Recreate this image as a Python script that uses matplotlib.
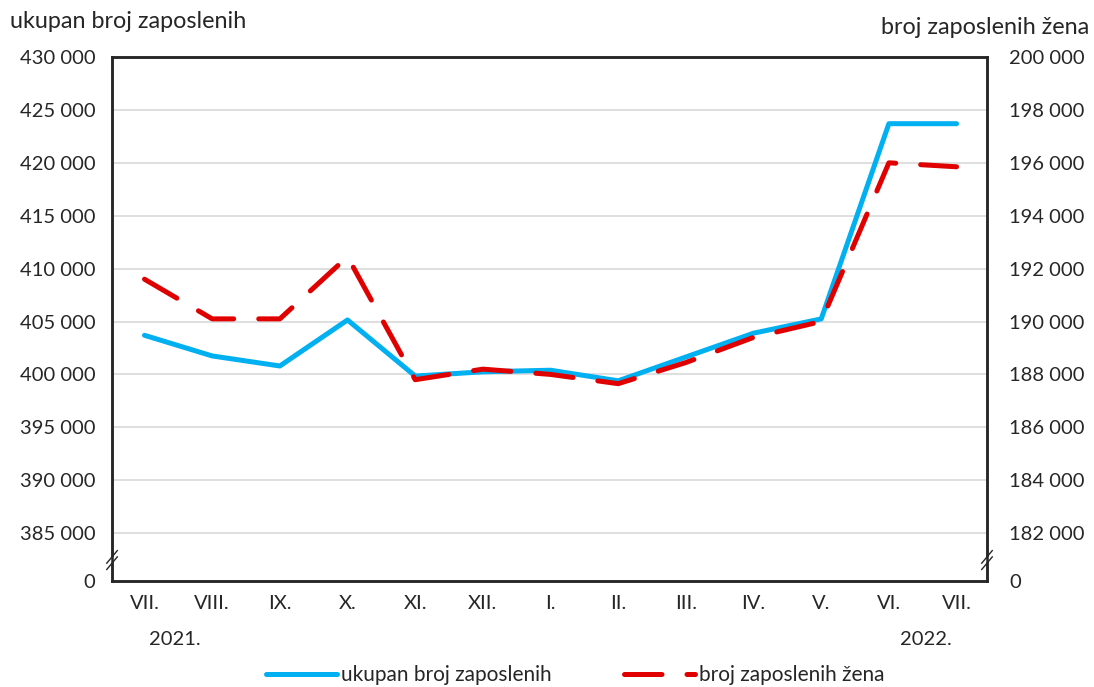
import matplotlib
matplotlib.use('Agg')
from matplotlib import pyplot as plt

plt.rcParams['font.family'] = ['Lato', 'DejaVu Sans']

months = ['VII.', 'VIII.', 'IX.', 'X.', 'XI.', 'XII.', 'I.', 'II.', 'III.',
          'IV.', 'V.', 'VI.', 'VII.']
ukupno = [403700, 401750, 400800, 405150, 399850, 400250, 400400, 399400,
          401650, 403900, 405250, 423700, 423700]
zene = [191600, 190100, 190100, 192450, 187800, 188200, 188000, 187650,
        188450, 189400, 190000, 196000, 195850]

left_ticks = [385000, 390000, 395000, 400000, 405000, 410000, 415000,
              420000, 425000, 430000]
right_ticks = [182000, 184000, 186000, 188000, 190000, 192000, 194000,
               196000, 198000, 200000]
left_bottom = 380480
right_bottom = 180190

blue = '#00B0F0'
red = '#E00000'
txt = '#262626'


def fmt(v):
    return '{:,}'.format(v).replace(',', ' ')


fig = plt.figure(figsize=(10.94, 6.87), dpi=100)
ax1 = fig.add_axes([0.1024, 0.1543, 0.7998, 0.7627])
ax2 = ax1.twinx()

x = list(range(len(months)))
l1, = ax1.plot(x, ukupno, color=blue, lw=3.6, solid_capstyle='round',
               solid_joinstyle='round', label='ukupan broj zaposlenih')
l2, = ax2.plot(x, zene, color=red, lw=3.6, dashes=(7.5, 5.0),
               dash_capstyle='round', dash_joinstyle='round',
               label='broj zaposlenih žena')

ax1.set_xlim(-0.48, 12.45)
ax1.set_ylim(left_bottom, 430000)
ax2.set_ylim(right_bottom, 200000)

ax1.set_yticks([left_bottom] + left_ticks)
ax1.set_yticklabels(['0'] + [fmt(v) for v in left_ticks])
ax2.set_yticks([right_bottom] + right_ticks)
ax2.set_yticklabels(['0'] + [fmt(v) for v in right_ticks])
ax1.set_xticks(x)
ax1.set_xticklabels(months)

for t in left_ticks[:-1]:
    ax1.axhline(t, color='#D9D9D9', lw=1.2, zorder=0)

for a in (ax1, ax2):
    a.tick_params(length=0, labelsize=14.5, colors=txt)
    for s in a.spines.values():
        s.set_color(txt)
        s.set_linewidth(1.8)
ax1.tick_params(axis='y', pad=12)
ax2.tick_params(axis='y', pad=16)
ax1.tick_params(axis='x', pad=10)
ax2.set_zorder(ax1.get_zorder() + 1)
ax2.patch.set_visible(False)

# axis break marks
for xs in (0.0, 1.0):
    ax1.plot([xs - 0.004, xs + 0.004], [0.04 - 0.003, 0.04 + 0.003],
             transform=ax1.transAxes, color='white', lw=3.0,
             clip_on=False, zorder=4)
    for dy in (-0.006, 0.006):
        ax1.plot([xs - 0.006, xs + 0.006], [0.04 + dy - 0.012, 0.04 + dy + 0.012],
                 transform=ax1.transAxes, color=txt, lw=1.0,
                 clip_on=False, zorder=5)

ax1.text(0.45, -0.096, '2021.', transform=ax1.get_xaxis_transform(),
         ha='center', va='top', fontsize=14.5, color=txt)
ax1.text(11.55, -0.096, '2022.', transform=ax1.get_xaxis_transform(),
         ha='center', va='top', fontsize=14.5, color=txt)

fig.text(0.009, 0.968, 'ukupan broj zaposlenih', ha='left', va='center',
         fontsize=16.8, color=txt)
fig.text(0.996, 0.96, 'broj zaposlenih žena', ha='right', va='center',
         fontsize=16.8, color=txt)

fig.legend(handles=[l1, l2], loc='center', bbox_to_anchor=(0.526, 0.017),
           ncol=2, frameon=False, fontsize=15, handlelength=3.4,
           handletextpad=0.2, columnspacing=3.5, labelcolor=txt)

fig.savefig('out.png', dpi=100)
